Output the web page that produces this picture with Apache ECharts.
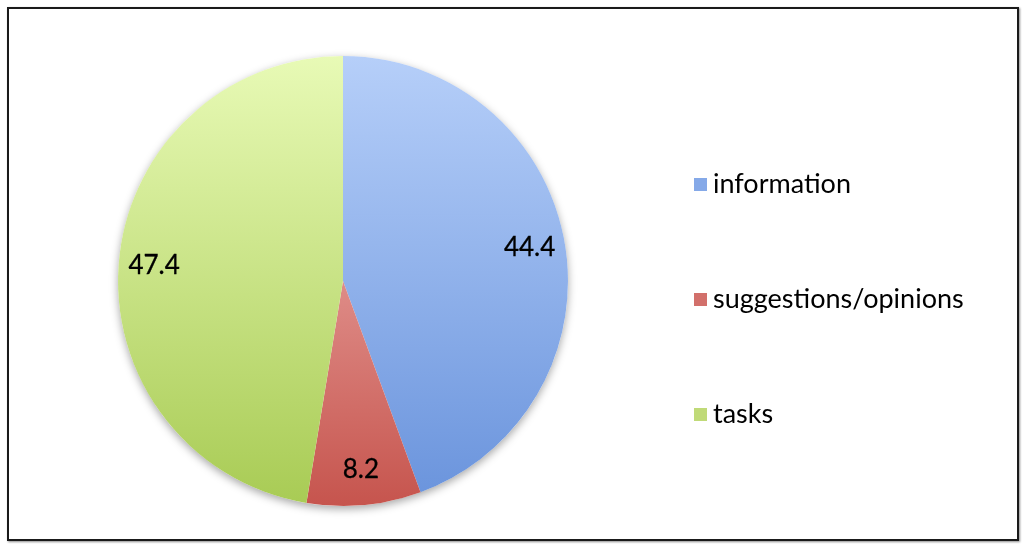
<!DOCTYPE html>
<html>
<head>
<meta charset="utf-8">
<script src="https://cdn.jsdelivr.net/npm/echarts@6/dist/echarts.min.js"></script>
<style>
  html, body { margin: 0; padding: 0; background: #fff; }
  #frame {
    position: absolute; left: 7px; top: 7px; width: 1012px; height: 534px;
    box-sizing: border-box; border: 2px solid #1a1a1a;
    box-shadow: 1px 1px 2px rgba(0,0,0,0.45);
  }
  #chart { position: absolute; left: 0; top: 0; width: 1024px; height: 546px; }
</style>
</head>
<body>
<div id="frame"></div>
<div id="chart"></div>
<script>
// data
var categories = ["information", "suggestions/opinions", "tasks"];
var values = [44.4, 8.2, 47.4];

// colours: light top -> darker bottom, plus legend swatch tone
var topColors = ["#b6cff9", "#f7c4c2", "#e8fab6"];
var bottomColors = ["#6993dc", "#c6544d", "#a8cb54"];
var swatchColors = ["#85a9e8", "#d2706b", "#c0da78"];

function grad(i) {
  return {
    type: "linear", x: 0, y: 55, x2: 0, y2: 507, global: true,
    colorStops: [
      { offset: 0, color: topColors[i] },
      { offset: 1, color: bottomColors[i] }
    ]
  };
}

var pieData = categories.map(function (name, i) {
  return { name: name, value: values[i], itemStyle: { color: grad(i) } };
});
var labelData = categories.map(function (name, i) {
  return { name: name, value: values[i] };
});
var legendData = categories.map(function (name, i) {
  return { name: name, itemStyle: { color: swatchColors[i] } };
});

var chart = echarts.init(document.getElementById("chart"));
chart.setOption({
  animation: false,
  backgroundColor: "transparent",
  legend: {
    orient: "vertical",
    left: 689,
    top: 166,
    itemWidth: 13,
    itemHeight: 13,
    itemGap: 88,
    icon: "rect",
    data: legendData,
    textStyle: { fontFamily: "Lato", fontSize: 27, color: "#000", padding: [0, 0, 0, 1] }
  },
  series: [
    {
      // soft shadow behind the pie
      type: "pie", silent: true, center: [343, 281], radius: 225,
      label: { show: false }, labelLine: { show: false },
      itemStyle: { color: "#fff", shadowBlur: 8, shadowOffsetY: 3, shadowColor: "rgba(0,0,0,0.35)" },
      data: [{ name: "_bg", value: 1 }],
      legendHoverLink: false
    },
    {
      type: "pie", center: [343, 281], radius: 225, startAngle: 90, clockwise: true,
      label: { show: false }, labelLine: { show: false },
      itemStyle: { borderWidth: 0 },
      data: pieData
    },
    {
      type: "pie", silent: true, center: [343, 281], radius: [148, 225], startAngle: 90, clockwise: true,
      itemStyle: { color: "transparent" },
      label: {
        show: true, position: "inside", formatter: "{c}",
        fontFamily: "Lato", fontSize: 26, color: "#000", textBorderColor: "#000", textBorderWidth: 0.3
      },
      labelLine: { show: false },
      data: labelData
    }
  ]
});
</script>
</body>
</html>
